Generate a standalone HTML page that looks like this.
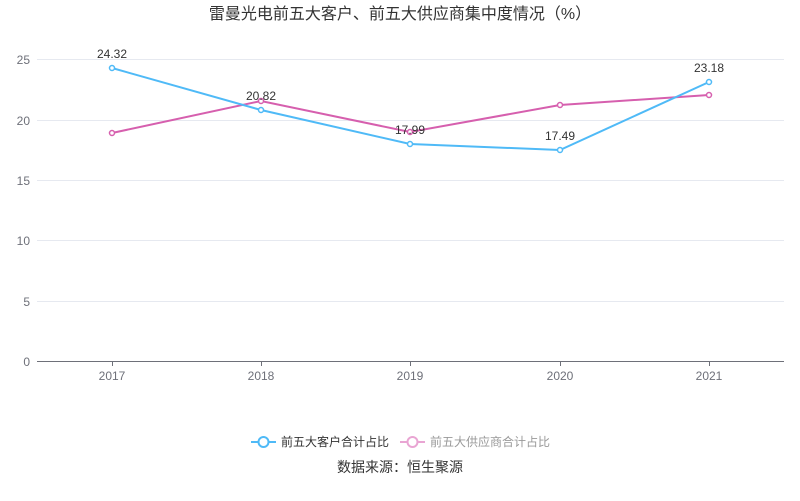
<!DOCTYPE html>
<html><head><meta charset="utf-8"><style>
html,body{margin:0;padding:0;background:#fff;}
svg{display:block;font-family:"Liberation Sans","Noto Sans CJK SC",sans-serif;}
</style></head><body>
<svg width="800" height="501" viewBox="0 0 800 501" xmlns="http://www.w3.org/2000/svg">
<text x="400" y="19" text-anchor="middle" font-size="16" fill="#333">雷曼光电前五大客户、前五大供应商集中度情况（%）</text>
<g stroke="#e6e9f0" stroke-width="1">
<line x1="37" y1="59.5" x2="784" y2="59.5"/>
<line x1="37" y1="120.5" x2="784" y2="120.5"/>
<line x1="37" y1="180.5" x2="784" y2="180.5"/>
<line x1="37" y1="240.5" x2="784" y2="240.5"/>
<line x1="37" y1="301.5" x2="784" y2="301.5"/>
</g>
<line x1="37" y1="361.5" x2="784" y2="361.5" stroke="#6e7079"/>
<g stroke="#6e7079">
<line x1="112.5" y1="361" x2="112.5" y2="366"/><line x1="261.5" y1="361" x2="261.5" y2="366"/><line x1="410.5" y1="361" x2="410.5" y2="366"/><line x1="560.5" y1="361" x2="560.5" y2="366"/><line x1="709.5" y1="361" x2="709.5" y2="366"/>
</g>
<g font-size="12" fill="#6e7079" text-anchor="end">
<text x="30" y="64">25</text><text x="30" y="125">20</text><text x="30" y="185">15</text><text x="30" y="245">10</text><text x="30" y="306">5</text><text x="30" y="366">0</text>
</g>
<g font-size="12" fill="#6e7079" text-anchor="middle">
<text x="112" y="380">2017</text><text x="261" y="380">2018</text><text x="410" y="380">2019</text><text x="560" y="380">2020</text><text x="709" y="380">2021</text>
</g>
<polyline points="112,133 261,101 410,132 560,105 709,95" fill="none" stroke="#d65fae" stroke-width="2"/>
<g fill="#fff" stroke="#d65fae" stroke-width="1.5">
<circle cx="112" cy="133" r="2.5"/><circle cx="261" cy="101" r="2.5"/><circle cx="410" cy="132" r="2.5"/><circle cx="560" cy="105" r="2.5"/><circle cx="709" cy="95" r="2.5"/>
</g>
<polyline points="112,68 261,110 410,144 560,150 709,82" fill="none" stroke="#4fbaf7" stroke-width="2"/>
<g fill="#fff" stroke="#4fbaf7" stroke-width="1.5">
<circle cx="112" cy="68" r="2.5"/><circle cx="261" cy="110" r="2.5"/><circle cx="410" cy="144" r="2.5"/><circle cx="560" cy="150" r="2.5"/><circle cx="709" cy="82" r="2.5"/>
</g>
<g font-size="12" fill="#333" text-anchor="middle">
<text x="112" y="58">24.32</text><text x="261" y="100">20.82</text><text x="410" y="134">17.99</text><text x="560" y="140">17.49</text><text x="709" y="72">23.18</text>
</g>
<line x1="251" y1="442" x2="276" y2="442" stroke="#4fbaf7" stroke-width="2"/>
<circle cx="263.5" cy="442" r="5" fill="#fff" stroke="#4fbaf7" stroke-width="2"/>
<text x="281" y="446" font-size="12" fill="#333">前五大客户合计占比</text>
<line x1="400" y1="442" x2="425" y2="442" stroke="#e9a5d3" stroke-width="2"/>
<circle cx="412.5" cy="442" r="5" fill="#fff" stroke="#e9a5d3" stroke-width="2"/>
<text x="430" y="446" font-size="12" fill="#999">前五大供应商合计占比</text>
<text x="400" y="472" text-anchor="middle" font-size="14" fill="#333">数据来源：恒生聚源</text>
</svg>
</body></html>
